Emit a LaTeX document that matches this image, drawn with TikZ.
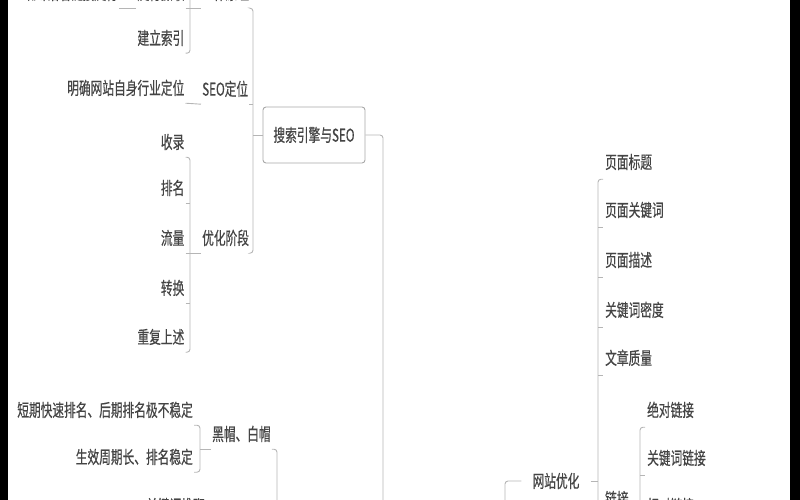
\documentclass[tikz,border=0pt]{standalone}
\usepackage{fontspec}
\newfontfamily\cjk[FakeStretch=0.6667,FakeBold=0.5]{Noto Sans CJK SC}
\usepackage{tikz}
\definecolor{txt}{HTML}{444444}
\definecolor{ln}{HTML}{B5B5B5}
\definecolor{bx}{HTML}{A8A8A8}
\tikzset{
  lt/.style={anchor=east, inner xsep=1pt, inner ysep=7.6pt, text height=14pt, text depth=0.8pt,
    text=txt, font=\cjk\fontsize{17.55}{20}\selectfont},
  rt/.style={lt, anchor=west, inner xsep=2pt, inner ysep=9.6pt},
  rootbox/.style={lt, anchor=center, draw=bx, line width=0.9pt, rounded corners=3pt,
    minimum width=102pt, minimum height=56pt},
  link/.style={draw=ln, line width=0.9pt},
  curl/.style={link, rounded corners=3pt}
}

\begin{document}
\begin{tikzpicture}[x=1pt,y=-1pt]
  \useasboundingbox (0,0) rectangle (800,500);
  \clip (0,0) rectangle (800,500);
  \fill[black] (0,0) rectangle (8,500);
  \fill[black] (790,0) rectangle (800,500);

  \node[rootbox] (root) at (314,135) {搜索引擎与SEO};

  \node[lt, anchor=west] (gz) at (201,-7) {工作原理};
  \node[lt] (zq) at (185.5,-7) {爬行抓取};
  \node[lt] (zz) at (119,-7) {蜘蛛沿着链接爬行};
  \node[lt] (jl) at (185.5,38) {建立索引};
  \node[lt, anchor=west] (seo) at (201,89) {SEO定位};
  \node[lt] (mq) at (185.5,88) {明确网站自身行业定位};
  \node[lt, anchor=west] (yh) at (201,238) {优化阶段};
  \node[lt] (sl) at (185.5,142) {收录};
  \node[lt] (pm) at (185.5,188) {排名};
  \node[lt] (ll) at (185.5,238) {流量};
  \node[lt] (zh) at (185.5,288) {转换};
  \node[lt] (cf) at (185.5,337) {重复上述};

  \node[lt] (dq) at (194,410) {短期快速排名、后期排名极不稳定};
  \node[lt] (sx) at (194,457) {生效周期长、排名稳定};
  \node[lt, anchor=west] (hm) at (211,434) {黑帽、白帽};
  \node[lt] (dj) at (206,506) {关键词堆砌};

  \node[rt, anchor=center, inner xsep=11pt] (wz) at (556,481) {网站优化};
  \node[rt] (bt) at (603,162) {页面标题};
  \node[rt] (gj) at (603,210) {页面关键词};
  \node[rt] (ms) at (603,260) {页面描述};
  \node[rt] (md) at (603,310) {关键词密度};
  \node[rt] (zl) at (603,358) {文章质量};
  \node[rt] (lj) at (603,499) {链接};
  \node[rt] (jd) at (645,410) {绝对链接};
  \node[rt] (gl) at (645,458) {关键词链接};
  \node[rt] (xd) at (645,506) {相对链接};

  \coordinate (b0) at (253,0);
  \coordinate (b1) at (190,-30);
  \coordinate (b2) at (190,0);
  \coordinate (b3) at (200,0);
  \coordinate (hb) at (277,530);
  \coordinate (rb) at (383,530);
  \coordinate (wb) at (505,530);
  \coordinate (b4) at (598,530);
  \coordinate (b5) at (640,530);

  \draw[link] (zz.south east) -- (zq.south west);
  \draw[link] (zq.south east) -- (gz.south west);
  \draw[curl] (b1) |- (jl.south east);
  \draw[link] (mq.south east) -- (seo.south west);
  \draw[curl] (sl.south east) -| (cf.south east -| b2) -- (cf.south east);
  \foreach \n in {pm,ll,zh} \draw[link] (\n.south east) -- (\n.south east -| b2);
  \draw[link] (yh.south west) -- (yh.south west -| b2);
  \draw[curl] (gz.south east) -| (yh.south east -| b0) -- (yh.south east);
  \draw[link] (seo.south east) -- (seo.south east -| b0);
  \draw[link] (root.west) -- (root.west -| b0);
  \draw[curl] (root.east) -| (rb);

  \draw[curl] (dq.south east) -| (sx.south east -| b3) -- (sx.south east);
  \draw[link] (hm.south west) -- (hm.south west -| b3);
  \draw[curl] (hm.south east) -| (hb);

  \draw[curl] (wz.west) -| (wb);
  \draw[link] (wz.east) -- (wz.east -| b4);
  \draw[curl] (bt.south west) -| (b4);
  \foreach \n in {gj,ms,md,zl,lj} \draw[link] (\n.south west -| b4) -- (\n.south west);
  \draw[curl] (jd.south west) -| (b5);
  \foreach \n in {gl,xd} \draw[link] (\n.south west -| b5) -- (\n.south west);
\end{tikzpicture}
\end{document}
